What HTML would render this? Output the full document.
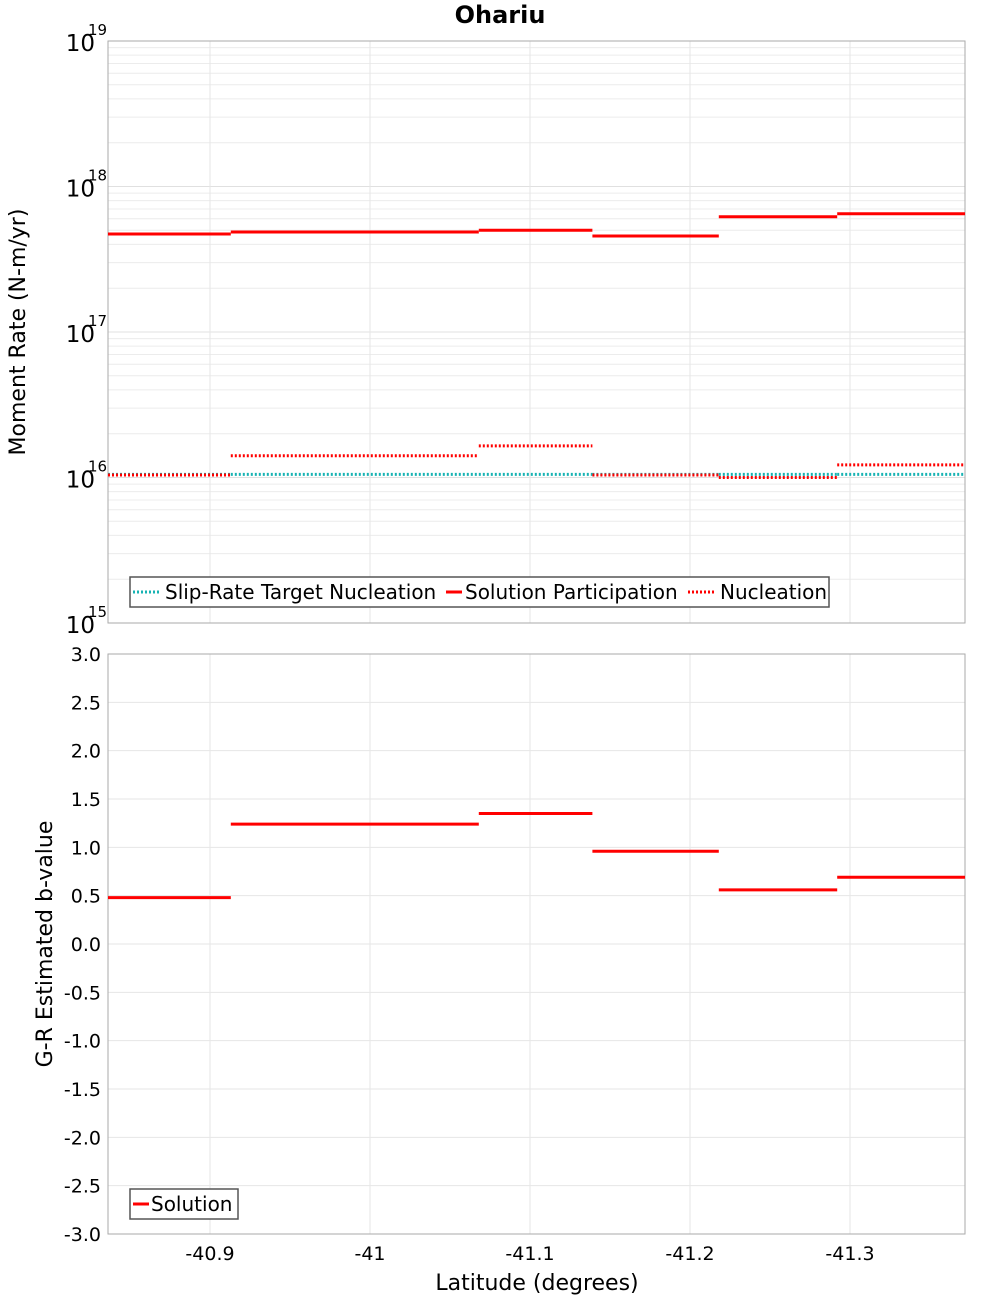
<!DOCTYPE html>
<html><head><meta charset="utf-8"><style>
body{margin:0;background:#fff;width:1000px;height:1300px;overflow:hidden}
svg text{font-family:"DejaVu Sans","Liberation Sans",sans-serif}
</style></head><body>
<svg id="c" width="1000" height="1300" xmlns="http://www.w3.org/2000/svg"></svg>
<script>
const binEdges=[-40.83625,-40.913,-41.068,-41.139,-41.218,-41.292,-41.371875];
const participation=[4.72e17,4.87e17,5.0e17,4.57e17,6.2e17,6.5e17];
const nucleation=[1.04e16,1.41e16,1.65e16,1.04e16,1.0e16,1.22e16];
const target=[1.05e16,1.05e16,1.05e16,1.05e16,1.05e16,1.05e16];
const bValues=[0.48,1.24,1.35,0.96,0.56,0.69];
const xTicks=[-40.9,-41,-41.1,-41.2,-41.3];
const xTickLabels=["-40.9","-41","-41.1","-41.2","-41.3"];
const logDecades=[15,16,17,18,19];
const bTicks=[3,2.5,2,1.5,1,0.5,0,-0.5,-1,-1.5,-2,-2.5,-3];

const svg=document.getElementById('c');
const NS='http://www.w3.org/2000/svg';
function mk(tag,attrs,parent,text){const e=document.createElementNS(NS,tag);for(const k in attrs)e.setAttribute(k,attrs[k]);if(text!==undefined)e.textContent=text;(parent||svg).appendChild(e);return e;}
const L=108,R=965,T1=41,B1=623,T2=654,B2=1234;
const xS=lat=>210+(-40.9-lat)*1600;
const yLog=v=>T1+(19-Math.log10(v))*(B1-T1)/4;
const yB=v=>T2+(3-v)*(B2-T2)/6;

let g=mk('g',{});


for(let d=15;d<19;d++)for(let m=1;m<10;m++){const y=yLog(m*Math.pow(10,d));const l=mk('line',{x1:L,x2:R,y1:y,y2:y,stroke:m==1?'#e0e0e0':'#ececec','stroke-width':1},g);}
xTicks.forEach(t=>{const l=mk('line',{x1:xS(t),x2:xS(t),y1:T1,y2:B1,stroke:'#e6e6e6'},g);});
let fr=mk('rect',{x:L,y:T1,width:R-L,height:B1-T1,fill:'none',stroke:'#aaa'},g);

logDecades.forEach(d=>{const y=yLog(Math.pow(10,d));
 const t=mk('text',{x:95,y:y+10,'font-size':23,'text-anchor':'end'},g,'10');
 const s=mk('text',{x:88,y:y-6,'font-size':15},g,String(d));});
function steps(vals,yf,color,dash,w,name,parent){vals.forEach((v,i)=>{const l=mk('line',{x1:xS(binEdges[i]),x2:xS(binEdges[i+1]),y1:yf(v),y2:yf(v),stroke:color,'stroke-width':w,'stroke-dasharray':dash||'none'},parent);});}
steps(target,yLog,'#17b3b3','2 2',3,'target-nucleation-segment',g);
steps(nucleation,yLog,'#ff0000','2 2',3,'nucleation-segment',g);
steps(participation,yLog,'#ff0000',null,3,'participation-segment',g);
const lg=mk('g',{},g);
mk('rect',{x:130,y:577,width:699,height:30,fill:'#fff',stroke:'#555','stroke-width':1.5},lg);
[[133,'#17b3b3','2 2','Slip-Rate Target Nucleation'],[446,'#ff0000','none','Solution Participation'],[688,'#ff0000','2 2','Nucleation']].forEach(([x,c,d,t])=>{
 const e=mk('g',{},lg);
 mk('line',{x1:x,x2:x+(x==446?16:28),y1:592,y2:592,stroke:c,'stroke-width':3,'stroke-dasharray':d},e);
 mk('text',{x:x+(x==446?19:32),y:599,'font-size':20},e,t);});
let tt=mk('text',{x:500,y:23,'font-size':24,'font-weight':'bold','text-anchor':'middle'},svg,'Ohariu');

let yt=mk('text',{x:0,y:0,'font-size':22,'text-anchor':'middle',transform:'translate(25,332) rotate(-90)'},svg,'Moment Rate (N-m/yr)');


let g2=mk('g',{});

bTicks.forEach(v=>{const y=yB(v);const l=mk('line',{x1:L,x2:R,y1:y,y2:y,stroke:'#e6e6e6'},g2);
 const t=mk('text',{x:101,y:y+7,'font-size':19,'text-anchor':'end'},g2,v.toFixed(1));});
xTicks.forEach((t,i)=>{const l=mk('line',{x1:xS(t),x2:xS(t),y1:T2,y2:B2,stroke:'#e6e6e6'},g2);
 const s=mk('text',{x:xS(t),y:1260,'font-size':19,'text-anchor':'middle'},g2,xTickLabels[i]);});
let fr2=mk('rect',{x:L,y:T2,width:R-L,height:B2-T2,fill:'none',stroke:'#aaa'},g2);

steps(bValues,yB,'#ff0000',null,3,'b-value-segment',g2);
const lg2=mk('g',{},g2);
mk('rect',{x:130,y:1189,width:108,height:30,fill:'#fff',stroke:'#555','stroke-width':1.5},lg2);
mk('line',{x1:133,x2:149,y1:1204,y2:1204,stroke:'#ff0000','stroke-width':3},lg2);
mk('text',{x:151,y:1211,'font-size':20},lg2,'Solution');
let yt2=mk('text',{x:0,y:0,'font-size':22,'text-anchor':'middle',transform:'translate(52,944) rotate(-90)'},svg,'G-R Estimated b-value');

let xt=mk('text',{x:537,y:1290,'font-size':22,'text-anchor':'middle'},svg,'Latitude (degrees)');

</script>
</body></html>
